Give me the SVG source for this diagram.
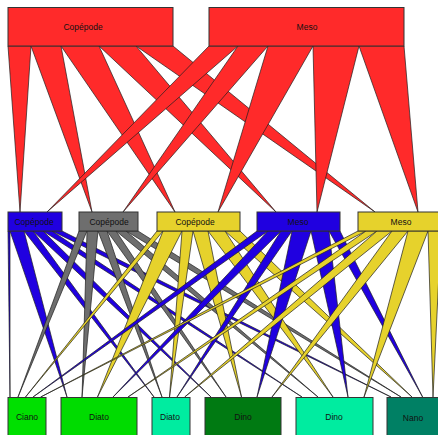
<svg xmlns="http://www.w3.org/2000/svg" width="438" height="435" viewBox="0 0 438 435">
<style>
.w{stroke:#1e1e1e;stroke-width:0.7;stroke-linejoin:round}
.r{fill:#ff2a2a}.b{fill:#2000e0}.g{fill:#6e6e6e}.y{fill:#e6d22c}
.box{stroke:#333;stroke-width:1}
text{font-family:"Liberation Sans",Arial,sans-serif;font-size:8.5px;fill:#111;text-anchor:middle}
</style>
<rect width="438" height="435" fill="#fff"/>
<g id="connectors">
<g class="w r">
<polygon points="8,46 31,46 20,212"/>
<polygon points="31,46 61,46 92,212"/>
<polygon points="61,46 99,46 175,212"/>
<polygon points="99,46 136,46 276,212"/>
<polygon points="136,46 173,46 375,212"/>
<polygon points="209,46 238,46 47,212"/>
<polygon points="238,46 268,46 123,212"/>
<polygon points="268,46 313,46 218,212"/>
<polygon points="313,46 359,46 317,212"/>
<polygon points="359,46 404,46 418,212"/>
</g>
<g class="w b">
<polygon points="8,231 10,231 10,397"/>
<polygon points="10,231 24,231 67,397"/>
<polygon points="24,231 33,231 154,397"/>
<polygon points="33,231 43,231 211,397"/>
<polygon points="43,231 52,231 302,397"/>
<polygon points="52,231 62,231 391,397"/>
</g>
<g class="w g">
<polygon points="79,231 87,231 18,397"/>
<polygon points="87,231 98,231 82,397"/>
<polygon points="98,231 107,231 162,397"/>
<polygon points="107,231 116,231 226,397"/>
<polygon points="116,231 126,231 318,397"/>
<polygon points="126,231 138,231 401,397"/>
</g>
<g class="w y">
<polygon points="157,231 163,231 25.5,397"/>
<polygon points="163,231 182,231 97.5,397"/>
<polygon points="182,231 193,231 169.5,397"/>
<polygon points="193,231 208,231 241.5,397"/>
<polygon points="208,231 225,231 333,397"/>
<polygon points="225,231 240,231 412,397"/>
</g>
<g class="w b">
<polygon points="257,231 268,231 33,397"/>
<polygon points="268,231 281,231 113,397"/>
<polygon points="281,231 292,231 177,397"/>
<polygon points="292,231 311,231 257,397"/>
<polygon points="311,231 329,231 348,397"/>
<polygon points="329,231 340,231 422.6,397"/>
</g>
<g class="w y">
<polygon points="358,231 366,231 40.7,397"/>
<polygon points="366,231 377,231 128,397"/>
<polygon points="377,231 392,231 184.7,397"/>
<polygon points="392,231 408,231 272,397"/>
<polygon points="408,231 428,231 364,397"/>
<polygon points="428,231 441,231 433,397"/>
</g>
</g>
<g id="top-copepode"><rect class="box" x="8" y="7.5" width="165" height="38.5" fill="#ff2a2a"/><text x="83" y="30">Copépode</text></g>
<g id="top-meso"><rect class="box" x="209" y="7.5" width="195" height="38.5" fill="#ff2a2a"/><text x="307" y="30">Meso</text></g>
<g id="mid-copepode-blue"><rect class="box" x="8" y="212" width="54" height="19" fill="#2000e0"/><text x="34" y="224.5">Copépode</text></g>
<g id="mid-copepode-grey"><rect class="box" x="79" y="212" width="59" height="19" fill="#6e6e6e"/><text x="109" y="224.5">Copépode</text></g>
<g id="mid-copepode-yellow"><rect class="box" x="157" y="212" width="83" height="19" fill="#e6d22c"/><text x="195" y="224.5">Copépode</text></g>
<g id="mid-meso-blue"><rect class="box" x="257" y="212" width="83" height="19" fill="#2000e0"/><text x="298" y="224.5">Meso</text></g>
<g id="mid-meso-yellow"><rect class="box" x="358" y="212" width="90" height="19" fill="#e6d22c"/><text x="401" y="224.5">Meso</text></g>
<g id="bot-ciano"><rect class="box" x="8" y="397.5" width="38" height="45" fill="#00e000"/><text x="27" y="420">Ciano</text></g>
<g id="bot-diato-green"><rect class="box" x="61" y="397.5" width="76" height="45" fill="#00dc00"/><text x="99" y="420">Diato</text></g>
<g id="bot-diato-teal"><rect class="box" x="152" y="397.5" width="38" height="45" fill="#00eca0"/><text x="170" y="420">Diato</text></g>
<g id="bot-dino-dark"><rect class="box" x="205" y="397.5" width="76" height="45" fill="#007a12"/><text x="243" y="420">Dino</text></g>
<g id="bot-dino-light"><rect class="box" x="296" y="397.5" width="77" height="45" fill="#00eca0"/><text x="334" y="420">Dino</text></g>
<g id="bot-nano"><rect class="box" x="387" y="397.5" width="60" height="45" fill="#008064"/><text x="413" y="421">Nano</text></g>
</svg>
